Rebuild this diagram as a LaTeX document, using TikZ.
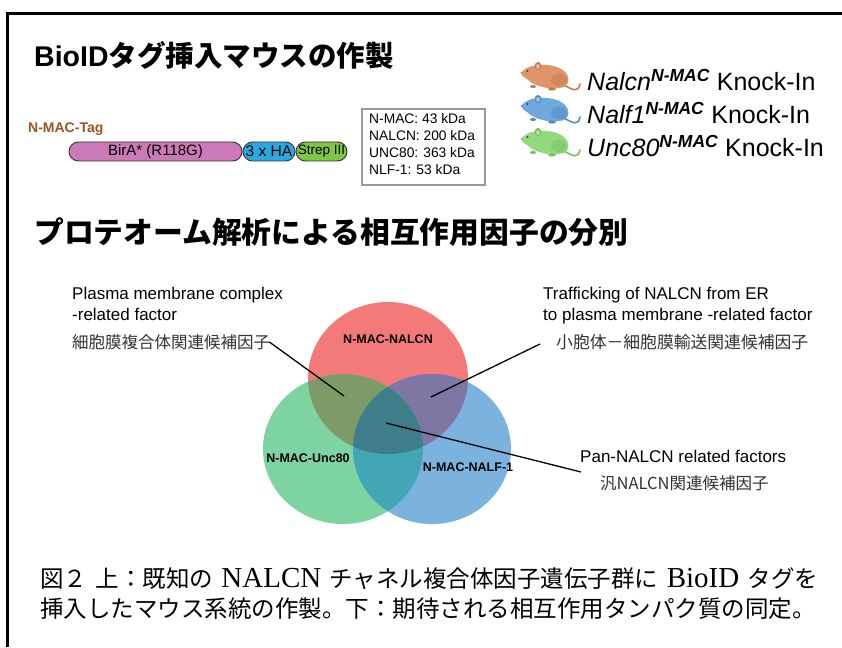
\documentclass[tikz,border=0pt]{standalone}
\usepackage{fontspec}
\setmainfont{Liberation Sans}
\newfontfamily\jp{Noto Sans CJK JP}
\newfontfamily\latserif{Liberation Serif}
\usetikzlibrary{calc}

\definecolor{tagbrown}{HTML}{9B5523}
\definecolor{birafill}{HTML}{CC79B8}
\definecolor{hafill}{HTML}{2AA9E1}
\definecolor{strepfill}{HTML}{7DC744}
\definecolor{vred}{HTML}{F47A7A}
\definecolor{vgreen}{HTML}{7ED4A0}
\definecolor{vblue}{HTML}{7BB3DE}
\definecolor{vrg}{HTML}{7E9A66}
\definecolor{vrb}{HTML}{7F77A3}
\definecolor{vgb}{HTML}{42A6B5}
\definecolor{vrgb}{HTML}{3E7D8A}
\definecolor{mouseA}{HTML}{E0946A}
\definecolor{mouseAd}{HTML}{C77A52}
\definecolor{mouseB}{HTML}{6EA8DC}
\definecolor{mouseBd}{HTML}{5689C0}
\definecolor{mouseC}{HTML}{93D97E}
\definecolor{mouseCd}{HTML}{76C062}
\definecolor{jpgray}{HTML}{333333}

\tikzset{
  txt/.style={inner sep=0pt, anchor=west},
  pill/.style={draw=black!80, line width=0.9pt, rounded corners=9.5pt},
  leader/.style={draw=black, line width=1.3pt},
  vennlabel/.style={inner sep=0pt, font=\bfseries\fontsize{12.5}{14}\selectfont},
  pics/mouse/.style n args={2}{code={
    % tail
    \draw[#2, line width=1.6pt, line cap=round]
      (43,12) .. controls (52,17) and (57,20) .. (59,11);
    % body
    \fill[#1] (0,0) .. controls (3,-4) and (8,-7) .. (14,-7.5)
      .. controls (24,-9) and (36,-8) .. (43,-2)
      .. controls (49,3) and (49,11) .. (43,14)
      .. controls (36,16) and (28,16) .. (22,14)
      .. controls (16,13) and (10,10) .. (6,6)
      .. controls (3,4) and (0,2.5) .. (0,0) -- cycle;
    % haunch
    \fill[#2, opacity=0.5] (38,7) ellipse [x radius=8, y radius=6.5];
    % feet
    \fill[#2] (12,13.5) ellipse [x radius=3, y radius=1.6];
    \fill[#2] (31,16) ellipse [x radius=4, y radius=1.6];
    % ear
    \fill[#2] (17,-7) ellipse [x radius=3.4, y radius=4];
    \fill[#1!70!white] (17,-6.5) ellipse [x radius=1.9, y radius=2.5];
    % eye and nose
    \fill[black!75] (6.5,-2) circle [radius=1.1];
    \fill[#2] (0.6,0) circle [radius=1];
  }}
}

\begin{document}
\begin{tikzpicture}[x=1pt, y=-1pt]
\useasboundingbox (0,0) rectangle (842,647);
\fill[white] (0,0) rectangle (842,647);

% frame
\draw[line width=3pt] (7,647) -- (7,13.5) -- (842,13.5);

% section titles
\node[txt] (title1) at (34,55) {\fontsize{28.5}{34}\selectfont\bfseries BioID{\jp\bfseries タグ挿入マウスの作製}};
\node[txt] (title2) at (34,232) {\jp\bfseries\fontsize{29.8}{34}\selectfont プロテオーム解析による相互作用因子の分別};

% tag construct
\node[txt, text=tagbrown, font=\bfseries\fontsize{14}{16}\selectfont] (tag) at (28,129) {N-MAC-Tag};
\draw[pill, fill=birafill] (69,142) rectangle (242,161);
\draw[pill, fill=hafill] (243,142) rectangle (295,161);
\draw[pill, fill=strepfill] (296,142) rectangle (347,161);
\node[inner sep=0pt, font=\fontsize{15}{16}\selectfont] (bira) at (155.5,151.5) {BirA* (R118G)};
\node[inner sep=0pt, font=\fontsize{15.5}{16}\selectfont] (ha) at (269,151.5) {3 x HA};
\node[inner sep=0pt, font=\fontsize{13.5}{16}\selectfont] (strep) at (321.5,151.5) {Strep III};

% molecular weights
\draw[draw=black!40, line width=1.2pt] (362,109) rectangle (485,185);
\node[txt, font=\fontsize{13.8}{17}\selectfont, align=left, anchor=north west] (mw) at (369,113.5)
  {N-MAC: 43 kDa\\NALCN: 200 kDa\\UNC80: 363 kDa\\NLF-1: 53 kDa};

% knock-in lines
\pic at (521,73) {mouse={mouseA}{mouseAd}};
\pic at (521,106) {mouse={mouseB}{mouseBd}};
\pic at (521,139) {mouse={mouseC}{mouseCd}};
\node[txt, font=\fontsize{25}{28}\selectfont] (ki1) at (587,80) {\textit{Nalcn}\textsuperscript{\bfseries\itshape N-MAC} Knock-In};
\node[txt, font=\fontsize{25}{28}\selectfont] (ki2) at (587,113) {\textit{Nalf1}\textsuperscript{\bfseries\itshape N-MAC} Knock-In};
\node[txt, font=\fontsize{25}{28}\selectfont] (ki3) at (587,146) {\textit{Unc80}\textsuperscript{\bfseries\itshape N-MAC} Knock-In};

% Venn diagram
\def\redE{(388,378) ellipse [x radius=80, y radius=76]}
\def\greenE{(343,449) ellipse [x radius=80, y radius=75]}
\def\blueE{(432,449) ellipse [x radius=79, y radius=75]}
\fill[vred] \redE;
\fill[vgreen] \greenE;
\fill[vblue] \blueE;
\begin{scope}\clip \redE; \fill[vrg] \greenE; \end{scope}
\begin{scope}\clip \redE; \fill[vrb] \blueE; \end{scope}
\begin{scope}\clip \greenE; \fill[vgb] \blueE; \end{scope}
\begin{scope}\clip \redE; \clip \greenE; \fill[vrgb] \blueE; \end{scope}

\node[vennlabel] (vnalcn) at (388,339) {N-MAC-NALCN};
\node[vennlabel] (vunc) at (308,458) {N-MAC-Unc80};
\node[vennlabel] (vnalf) at (468,467) {N-MAC-NALF-1};

% category labels
\node[txt, font=\fontsize{17}{21}\selectfont, align=left, anchor=north west] (pm) at (72,287)
  {Plasma membrane complex\\-related factor};
\node[txt, text=jpgray, font=\jp\fontsize{16.5}{20}\selectfont] (pmjp) at (72,342) {細胞膜複合体関連候補因子};

\node[txt, font=\fontsize{17}{21}\selectfont, align=left, anchor=north west] (tr) at (543,287)
  {Trafficking of NALCN from ER\\to plasma membrane -related factor};
\node[txt, text=jpgray, font=\jp\fontsize{16.8}{20}\selectfont] (trjp) at (556,342) {小胞体－細胞膜輸送関連候補因子};

\node[txt, font=\fontsize{17}{21}\selectfont] (pan) at (580,456) {Pan-NALCN related factors};
\node[txt, text=jpgray, font=\jp\fontsize{16.5}{20}\selectfont] (panjp) at (600,483) {汎NALCN関連候補因子};

% leader lines
\coordinate (rg) at (344,396);
\coordinate (rb) at (431,397);
\coordinate (rgb) at (386,423);
\coordinate (panend) at (581,472);
\draw[leader] ($(pmjp.east)+(-1,0)$) -- (rg);
\draw[leader] ($(trjp.west)+(-16,2)$) -- (rb);
\draw[leader] (rgb) -- (panend);

% caption
\node[txt, font=\jp\fontsize{23.5}{28}\selectfont] (cap1) at (40,579)
  {\makebox[778pt][s]{図２ 上：既知の {\latserif\fontsize{29}{28}\selectfont NALCN} チャネル複合体因子遺伝子群に {\latserif\fontsize{29}{28}\selectfont BioID} タグを}};
\node[txt, font=\jp\fontsize{23.5}{28}\selectfont] (cap2) at (40,609)
  {\makebox[778pt][s]{挿入したマウス系統の作製。下：期待される相互作用タンパク質の同定。}};
\end{tikzpicture}
\end{document}
